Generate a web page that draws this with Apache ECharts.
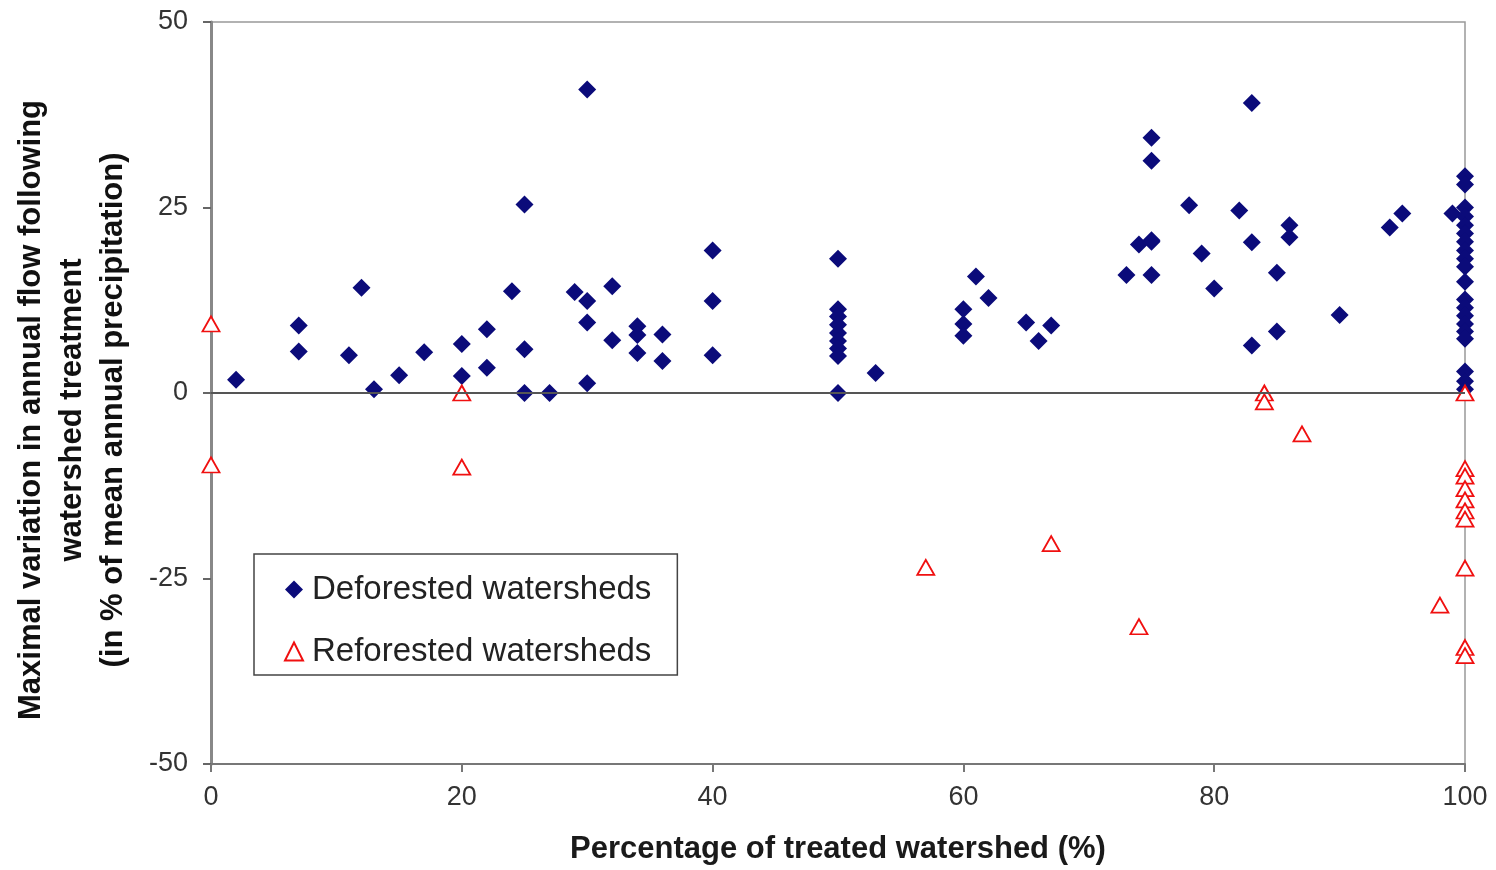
<!DOCTYPE html>
<html>
<head>
<meta charset="utf-8">
<script src="https://cdn.jsdelivr.net/npm/echarts@6/dist/echarts.min.js"></script>
<style>
  html, body { margin: 0; padding: 0; background: #fff; }
  #chart { width: 1496px; height: 870px; }
</style>
</head>
<body>
<div id="chart"></div>
<script>
// deforested watersheds (x = % treated, y = max variation)
const deforestedX = [2, 7, 7, 11, 12, 13, 15, 17, 20, 20, 22, 22, 24, 25, 25, 25, 27, 29,
  30, 30, 30, 30, 32, 32, 34, 34, 34, 36, 36, 40, 40, 40,
  50, 50, 50, 50, 50, 50, 50, 50, 50, 53, 60, 60, 60, 61, 62, 65, 66, 67,
  73, 74, 75, 75, 75, 75, 75, 78, 79, 80, 82, 83, 83, 83, 85, 85, 86, 86, 90, 94, 95, 99,
  100, 100, 100, 100, 100, 100, 100, 100, 100, 100, 100, 100, 100, 100, 100, 100, 100, 100, 100, 100];
const deforestedY = [1.8, 9.1, 5.6, 5.1, 14.2, 0.5, 2.4, 5.5, 6.6, 2.3, 8.6, 3.4, 13.7, 25.4, 5.9, 0, 0, 13.6,
  40.9, 12.4, 9.5, 1.3, 14.4, 7.1, 9.0, 7.8, 5.4, 7.9, 4.3, 19.2, 12.4, 5.1,
  18.1, 11.3, 10.3, 9.2, 8.1, 7.0, 6.0, 5.0, 0, 2.7, 11.3, 9.3, 7.7, 15.7, 12.8, 9.5, 7.0, 9.1,
  15.9, 20.0, 20.4, 34.4, 31.3, 15.9, 20.6, 25.3, 18.8, 14.1, 24.6, 39.1, 20.3, 6.4, 16.2, 8.3, 22.6, 21.0, 10.5, 22.3, 24.2, 24.2,
  29.2, 28.1, 25.0, 23.8, 22.6, 21.5, 20.4, 19.2, 18.1, 17.0, 15.0, 12.6, 11.5, 10.4, 9.3, 8.3, 7.3, 2.9, 1.6, 0.5];

// reforested watersheds
const reforestedX = [0, 0, 20, 20, 57, 67, 74, 84, 84, 87, 98, 100, 100, 100, 100, 100, 100, 100, 100, 100, 100];
const reforestedY = [9.3, -9.7, 0, -10, -23.5, -20.3, -31.5, 0, -1.2, -5.5, -28.6,
  0, -10.2, -11.2, -12.9, -14.4, -15.9, -17.0, -23.6, -34.3, -35.4];

const xTicks = [0, 20, 40, 60, 80, 100];
const yTicks = [-50, -25, 0, 25, 50];

const deforested = deforestedX.map((x, i) => [x, deforestedY[i]]);
const reforested = reforestedX.map((x, i) => [x, reforestedY[i]]);

const font = '"Liberation Sans", Arial, sans-serif';
const chart = echarts.init(document.getElementById('chart'));

chart.setOption({
  animation: false,
  backgroundColor: '#fff',
  textStyle: { fontFamily: font },
  grid: {
    left: 211, right: 31, top: 22, bottom: 80,
    show: true, borderColor: '#999', borderWidth: 1.5, backgroundColor: 'transparent'
  },
  legend: {
    orient: 'vertical',
    left: 254, top: 554,
    backgroundColor: '#fff',
    borderColor: '#444', borderWidth: 1.5,
    padding: [19, 26, 7, 30],
    itemGap: 29,
    itemWidth: 18, itemHeight: 18,
    textStyle: { fontFamily: font, fontSize: 33, color: '#222', lineHeight: 32, padding: [0, 0, 0, 4] },
    data: ['Deforested watersheds', 'Reforested watersheds']
  },
  xAxis: {
    type: 'value', min: xTicks[0], max: xTicks[xTicks.length - 1], interval: 20,
    name: 'Percentage of treated watershed (%)',
    nameLocation: 'middle', nameGap: 70,
    nameTextStyle: { fontFamily: font, fontSize: 31, fontWeight: 'bold', color: '#1a1a1a' },
    axisLine: { show: true, onZero: false, lineStyle: { color: '#777', width: 2 } },
    axisTick: { show: true, length: 8, lineStyle: { color: '#777', width: 2 } },
    axisLabel: { fontSize: 27, color: '#333', margin: 20 },
    splitLine: { show: false }
  },
  yAxis: {
    type: 'value', min: yTicks[0], max: yTicks[yTicks.length - 1], interval: 25,
    axisLine: { show: true, onZero: false, lineStyle: { color: '#888', width: 3 } },
    axisTick: { show: true, length: 8, lineStyle: { color: '#666', width: 2 } },
    axisLabel: { fontSize: 27, color: '#333', margin: 23 },
    splitLine: { show: false }
  },
  graphic: [{
    type: 'text',
    rotation: Math.PI / 2,
    x: 72, y: 410,
    style: {
      text: 'Maximal variation in annual flow following\nwatershed treatment\n(in % of mean annual precipitation)',
      font: 'bold 31px ' + font,
      fill: '#111',
      align: 'center',
      verticalAlign: 'middle',
      lineHeight: 41
    }
  }],
  series: [
    {
      name: 'Deforested watersheds',
      type: 'scatter',
      data: deforested,
      symbol: 'diamond',
      symbolSize: 18,
      itemStyle: { color: '#0b0b7a', opacity: 1 },
      z: 3,
      markLine: {
        silent: true, symbol: 'none', label: { show: false },
        lineStyle: { color: '#555', width: 2, type: 'solid' },
        data: [{ yAxis: 0 }]
      }
    },
    {
      name: 'Reforested watersheds',
      type: 'scatter',
      data: reforested,
      symbol: 'triangle',
      symbolSize: [17, 15],
      itemStyle: { color: '#fff', borderColor: '#f01010', borderWidth: 1.8, opacity: 1 },
      z: 4
    }
  ]
});
</script>
</body>
</html>
